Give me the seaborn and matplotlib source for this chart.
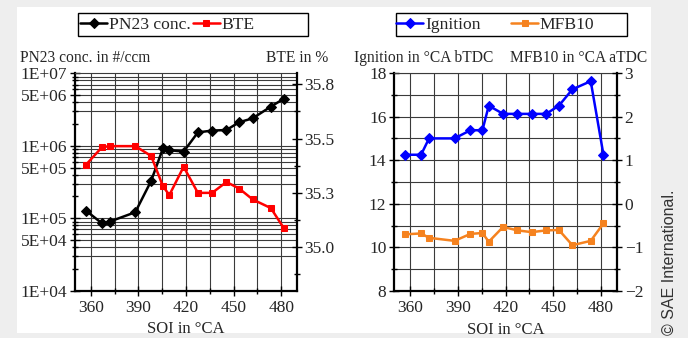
import matplotlib
matplotlib.use("Agg")
import matplotlib.pyplot as plt
import seaborn as sns
import numpy as np
from matplotlib.patches import Rectangle
from matplotlib.ticker import FixedLocator, FixedFormatter, MultipleLocator, NullFormatter

# Start-of-injection sweep
soi = [357, 367, 372, 388, 398, 405.5, 409.5, 418.5, 427.5, 436.5, 445.5, 453.5, 462, 473.5, 481.5]
pn23 = [1.27e5, 8.5e4, 9.0e4, 1.21e5, 3.27e5, 9.25e5, 8.7e5, 8.3e5,
        1.53e6, 1.62e6, 1.65e6, 2.11e6, 2.39e6, 3.47e6, 4.43e6]
bte = [35.43, 35.51, 35.515, 35.515, 35.47, 35.33, 35.29, 35.42,
       35.30, 35.30, 35.35, 35.32, 35.27, 35.23, 35.14]
ignition = [14.25, 14.25, 15.0, 15.0, 15.375, 15.375, 16.5, 16.125,
            16.125, 16.125, 16.125, 16.5, 17.25, 17.625, 14.25]
mfb10 = [-0.70, -0.68, -0.78, -0.85, -0.69, -0.67, -0.87, -0.53,
         -0.61, -0.65, -0.61, -0.60, -0.95, -0.85, -0.45]

pn_ticks = [1e4, 5e4, 1e5, 5e5, 1e6, 5e6, 1e7]
pn_labels = ["1E+04", "5E+04", "1E+05", "5E+05", "1E+06", "5E+06", "1E+07"]
bte_ticks = [35.05, 35.30, 35.55, 35.80]
bte_labels = ["35.0", "35.3", "35.5", "35.8"]

sns.set_style("ticks")
plt.rcParams["font.family"] = ["Liberation Serif", "DejaVu Serif"]
plt.rcParams["mathtext.default"] = "regular"

W, H = 688, 338
fig = plt.figure(figsize=(W / 100, H / 100), dpi=100)
fig.patch.set_facecolor("#eeeeee")
fig.patches.append(Rectangle((17 / W, 5 / H), (651 - 17) / W, (331 - 5) / H,
                             transform=fig.transFigure, facecolor="white",
                             edgecolor="none", zorder=-10))

GRID = "#3a3a3a"
TICK_FS = 12.5
SPINE_W = 1.6


def px_axes(x0, x1, y0, y1):
    return fig.add_axes([x0 / W, 1 - y1 / H, (x1 - x0) / W, (y1 - y0) / H])


def style_axis(ax):
    for s in ("left", "bottom", "right"):
        ax.spines[s].set_linewidth(SPINE_W)
        ax.spines[s].set_color("black")
    ax.spines["top"].set_linewidth(0.8)
    ax.spines["top"].set_color(GRID)
    ax.tick_params(which="major", direction="inout", length=7, width=1.0,
                   labelsize=TICK_FS, pad=2, color="black")
    ax.tick_params(which="minor", direction="inout", length=5, width=1.0, color="black")
    ax.tick_params(axis="x", which="major", pad=3)


# ---------------- left panel: particle number and efficiency ----------------
ax1 = px_axes(75, 297, 73.3, 290.7)
ax1.set_yscale("log")
ax1.set_xlim(350, 490)
ax1.set_ylim(1e4, 1e7)
ax1.xaxis.set_major_locator(MultipleLocator(30))
ax1.xaxis.set_minor_locator(MultipleLocator(15))
ax1.yaxis.set_major_locator(FixedLocator(pn_ticks))
ax1.yaxis.set_major_formatter(FixedFormatter(pn_labels))
minor_pn = [m * 10 ** e for e in (4, 5, 6) for m in (2, 3, 4, 6, 7, 8, 9)]
ax1.yaxis.set_minor_locator(FixedLocator(minor_pn))
ax1.yaxis.set_minor_formatter(NullFormatter())
grid_pn = [m * 10 ** e for e in (4, 5, 6) for m in (1, 3, 4, 5, 6, 7, 8, 9)]
ax1.hlines(grid_pn, 350, 490, colors=GRID, linewidth=0.8, zorder=0.5)
ax1.grid(which="both", axis="x", color=GRID, linewidth=0.8)
ax1.set_axisbelow(True)
style_axis(ax1)
ax1.spines["right"].set_visible(False)

sns.lineplot(x=soi, y=pn23, ax=ax1, color="black", marker="D", markersize=5.5,
             markeredgecolor="black", linewidth=1.8, sort=False, estimator=None,
             label="PN23 conc.", legend=False)
ax1.set_xlabel("SOI in \u00b0CA", fontsize=12, labelpad=4)
ax1.set_ylabel("")

ax2 = ax1.twinx()
ax2.set_ylim(34.85, 35.85)
ax2.yaxis.set_major_locator(FixedLocator(bte_ticks))
ax2.yaxis.set_major_formatter(FixedFormatter(bte_labels))
ax2.yaxis.set_minor_locator(FixedLocator([34.925, 35.175, 35.425, 35.675]))
for s in ("left", "bottom", "top"):
    ax2.spines[s].set_visible(False)
style_axis(ax2)
sns.lineplot(x=soi, y=bte, ax=ax2, color="#ff0000", marker="s", markersize=5,
             markeredgecolor="#ff0000", linewidth=1.8, sort=False, estimator=None,
             label="BTE", legend=False)
ax2.set_ylabel("")

fig.text(20 / W, 1 - 57.5 / H, "PN23 conc. in #/ccm", fontsize=11.2, ha="left", va="center")
fig.text(328 / W, 1 - 57.5 / H, "BTE in %", fontsize=11.2, ha="right", va="center")

# ---------------- right panel: ignition timing and MFB10 ----------------
ax3 = px_axes(394, 617, 73, 291)
ax3.set_xlim(350, 490)
ax3.set_ylim(8, 18)
ax3.xaxis.set_major_locator(MultipleLocator(30))
ax3.xaxis.set_minor_locator(MultipleLocator(15))
ax3.yaxis.set_major_locator(MultipleLocator(2))
ax3.yaxis.set_minor_locator(MultipleLocator(1))
ax3.grid(which="both", color=GRID, linewidth=0.8)
ax3.set_axisbelow(True)
style_axis(ax3)
ax3.spines["right"].set_visible(False)
sns.lineplot(x=soi, y=ignition, ax=ax3, color="#0000ff", marker="D", markersize=5.5,
             markeredgecolor="#0000ff", linewidth=1.8, sort=False, estimator=None,
             label="Ignition", legend=False)
ax3.set_xlabel("SOI in \u00b0CA", fontsize=12, labelpad=4)
ax3.set_ylabel("")

ax4 = ax3.twinx()
ax4.set_ylim(-2, 3)
ax4.yaxis.set_major_locator(MultipleLocator(1))
ax4.yaxis.set_minor_locator(MultipleLocator(0.5))
for s in ("left", "bottom", "top"):
    ax4.spines[s].set_visible(False)
style_axis(ax4)
sns.lineplot(x=soi, y=mfb10, ax=ax4, color="#f5821f", marker="s", markersize=5,
             markeredgecolor="#f5821f", linewidth=1.8, sort=False, estimator=None,
             label="MFB10", legend=False)
ax4.set_ylabel("")

fig.text(354.5 / W, 1 - 57.5 / H, "Ignition in \u00b0CA bTDC", fontsize=11.2, ha="left", va="center")
fig.text(647 / W, 1 - 57.5 / H, "MFB10 in \u00b0CA aTDC", fontsize=11.2, ha="right", va="center")

# ---------------- legends in fixed boxes above each panel ----------------
for (x0, x1) in ((77.7, 308), (395.7, 627.3)):
    fig.patches.append(Rectangle((x0 / W, 1 - 36 / H), (x1 - x0) / W, 22.7 / H,
                                 transform=fig.transFigure, facecolor="white",
                                 edgecolor="black", linewidth=1.0, zorder=1))

leg_kw = dict(loc="center left", frameon=False, borderpad=0, borderaxespad=0,
              handlelength=1.55, handletextpad=0.1, ncol=2, fontsize=12.6)
fig.legend([ax1.lines[-1], ax2.lines[-1]], ["PN23 conc.", "BTE"],
           bbox_to_anchor=(80 / W, 1 - 24.7 / H), columnspacing=0.12, **leg_kw)
fig.legend([ax3.lines[-1], ax4.lines[-1]], ["Ignition", "MFB10"],
           bbox_to_anchor=(396 / W, 1 - 24.7 / H), columnspacing=1.75, **leg_kw)

fig.text(669 / W, 3 / H, "\u00a9 SAE International.", rotation=90, ha="center", va="bottom",
         fontsize=11.5, color="#333333", family=["Liberation Sans", "DejaVu Sans"])

fig.savefig("out.png", dpi=100, facecolor=fig.get_facecolor())
